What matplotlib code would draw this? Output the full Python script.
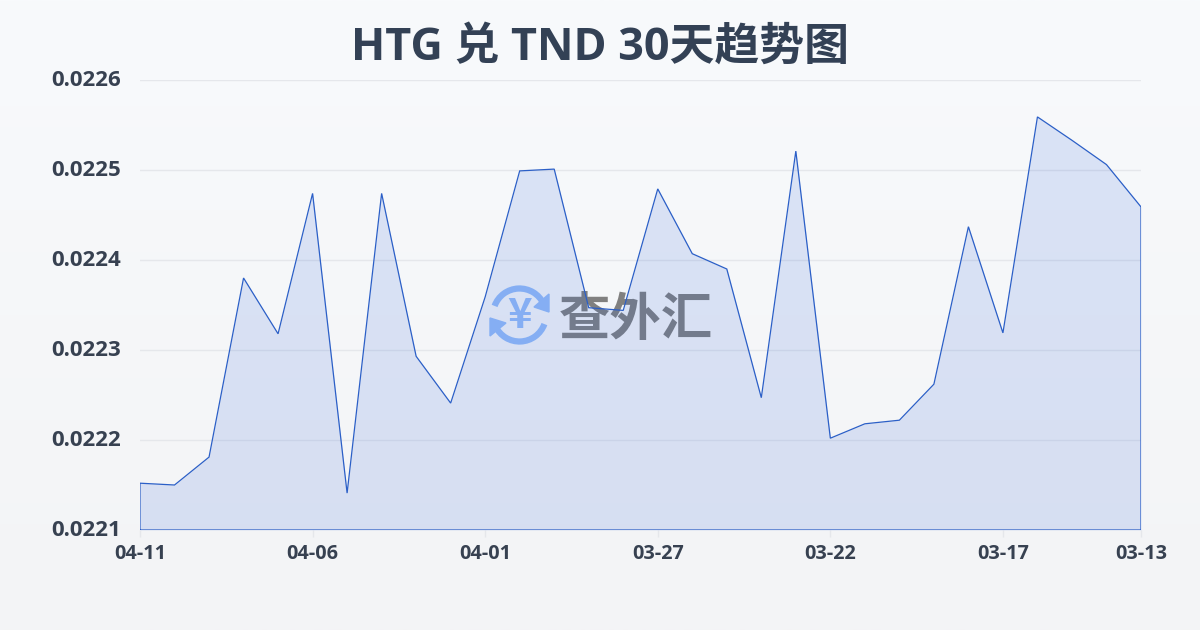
import numpy as np
import matplotlib
matplotlib.use("Agg")
import matplotlib.pyplot as plt
from matplotlib.patches import Arc, Polygon
from matplotlib.transforms import ScaledTranslation

plt.rcParams["font.family"] = ["Noto Sans CJK SC", "DejaVu Sans"]

# Values
dates = [
    "04-11", "04-10", "04-09", "04-08", "04-07", "04-06", "04-05", "04-04", "04-03", "04-02",
    "04-01", "03-31", "03-30", "03-29", "03-28", "03-27", "03-26", "03-25", "03-24", "03-23",
    "03-22", "03-21", "03-20", "03-19", "03-18", "03-17", "03-16", "03-15", "03-14", "03-13",
]
rates = [
    0.022152, 0.022150, 0.022181, 0.022380, 0.022318, 0.022474, 0.022141, 0.022474, 0.022293, 0.022241,
    0.022359, 0.022499, 0.022501, 0.022347, 0.022344, 0.022479, 0.022407, 0.022390, 0.022247, 0.022521,
    0.022202, 0.022218, 0.022222, 0.022262, 0.022437, 0.022319, 0.022559, 0.022533, 0.022506, 0.022459,
]
y_ticks = [0.0221, 0.0222, 0.0223, 0.0224, 0.0225, 0.0226]
x_tick_pos = [0, 5, 10, 15, 20, 25, 29]

LATIN = ["Open Sans", "Noto Sans CJK SC", "DejaVu Sans"]

W, H = 1200, 630
fig = plt.figure(figsize=(W / 100, H / 100), dpi=100)

# background gradient
bg = fig.add_axes([0, 0, 1, 1], zorder=0)
bg.imshow(np.linspace(0, 1, 256).reshape(-1, 1), aspect="auto", extent=[0, W, H, 0],
          cmap=matplotlib.colors.LinearSegmentedColormap.from_list("bg", ["#f8fafc", "#f3f4f6"]))
bg.set_xlim(0, W)
bg.set_ylim(H, 0)
bg.axis("off")

# watermark, sits under the area fill
cx, cy, r = 519.5, 315, 26.5
bg.add_patch(Arc((cx, cy), 2 * r, 2 * r, theta1=200, theta2=335, color="#94bcf8", lw=4.5))
bg.add_patch(Arc((cx, cy), 2 * r, 2 * r, theta1=20, theta2=155, color="#94bcf8", lw=4.5))
bg.add_patch(Polygon([[534, 307], [549, 294], [549, 312]], color="#94bcf8"))
bg.add_patch(Polygon([[490, 318], [490, 336], [506, 323]], color="#94bcf8"))
bg.text(cx, cy + 1, "¥", color="#94bcf8", fontsize=30, fontweight="bold", ha="center", va="center")
bg.text(636, 319, "查外汇", color="#808080", fontsize=37, fontweight="bold", ha="center", va="center")

# plot area
left, right, top, bottom = 140, 1141, 80, 530
ax = fig.add_axes([left / W, 1 - bottom / H, (right - left) / W, (bottom - top) / H], zorder=1)
ax.patch.set_alpha(0)
x = np.arange(len(rates))
ax.fill_between(x, rates, y_ticks[0], color="#2a5fd8", alpha=0.14, lw=0, zorder=2)
ax.plot(np.r_[x[0], x, x[-1], x[0]], np.r_[y_ticks[0], rates, y_ticks[0], y_ticks[0]],
        color="#2b5fc7", lw=0.9, zorder=3, solid_joinstyle="miter")

ax.set_xlim(0, len(rates) - 1)
ax.set_ylim(y_ticks[0], y_ticks[-1])
ax.set_yticks(y_ticks)
ax.set_yticklabels([f"{v:.4f}" for v in y_ticks], fontsize=16, fontweight="bold",
                   color="#374151", family=LATIN)
ax.set_xticks(x_tick_pos)
ax.set_xticklabels([dates[i] for i in x_tick_pos], fontsize=14.3, fontweight="bold",
                   color="#374151", family=LATIN)
ax.tick_params(axis="y", length=0, pad=14)
ax.tick_params(axis="x", length=5, width=1, color="#e5e7eb", pad=5)
shift = ScaledTranslation(0, 2 / 100, fig.dpi_scale_trans)
for lab in ax.get_yticklabels():
    lab.set_transform(lab.get_transform() + shift)
ax.grid(axis="y", color="#e5e7eb", lw=1, zorder=1)
ax.set_axisbelow(True)
for s in ax.spines.values():
    s.set_visible(False)

fig.text(600 / W, 1 - 48 / H, "HTG 兑 TND 30天趋势图", fontsize=32.3, fontweight="bold",
         color="#334155", ha="center", va="center", family=LATIN)

fig.savefig("out.png", dpi=100)
